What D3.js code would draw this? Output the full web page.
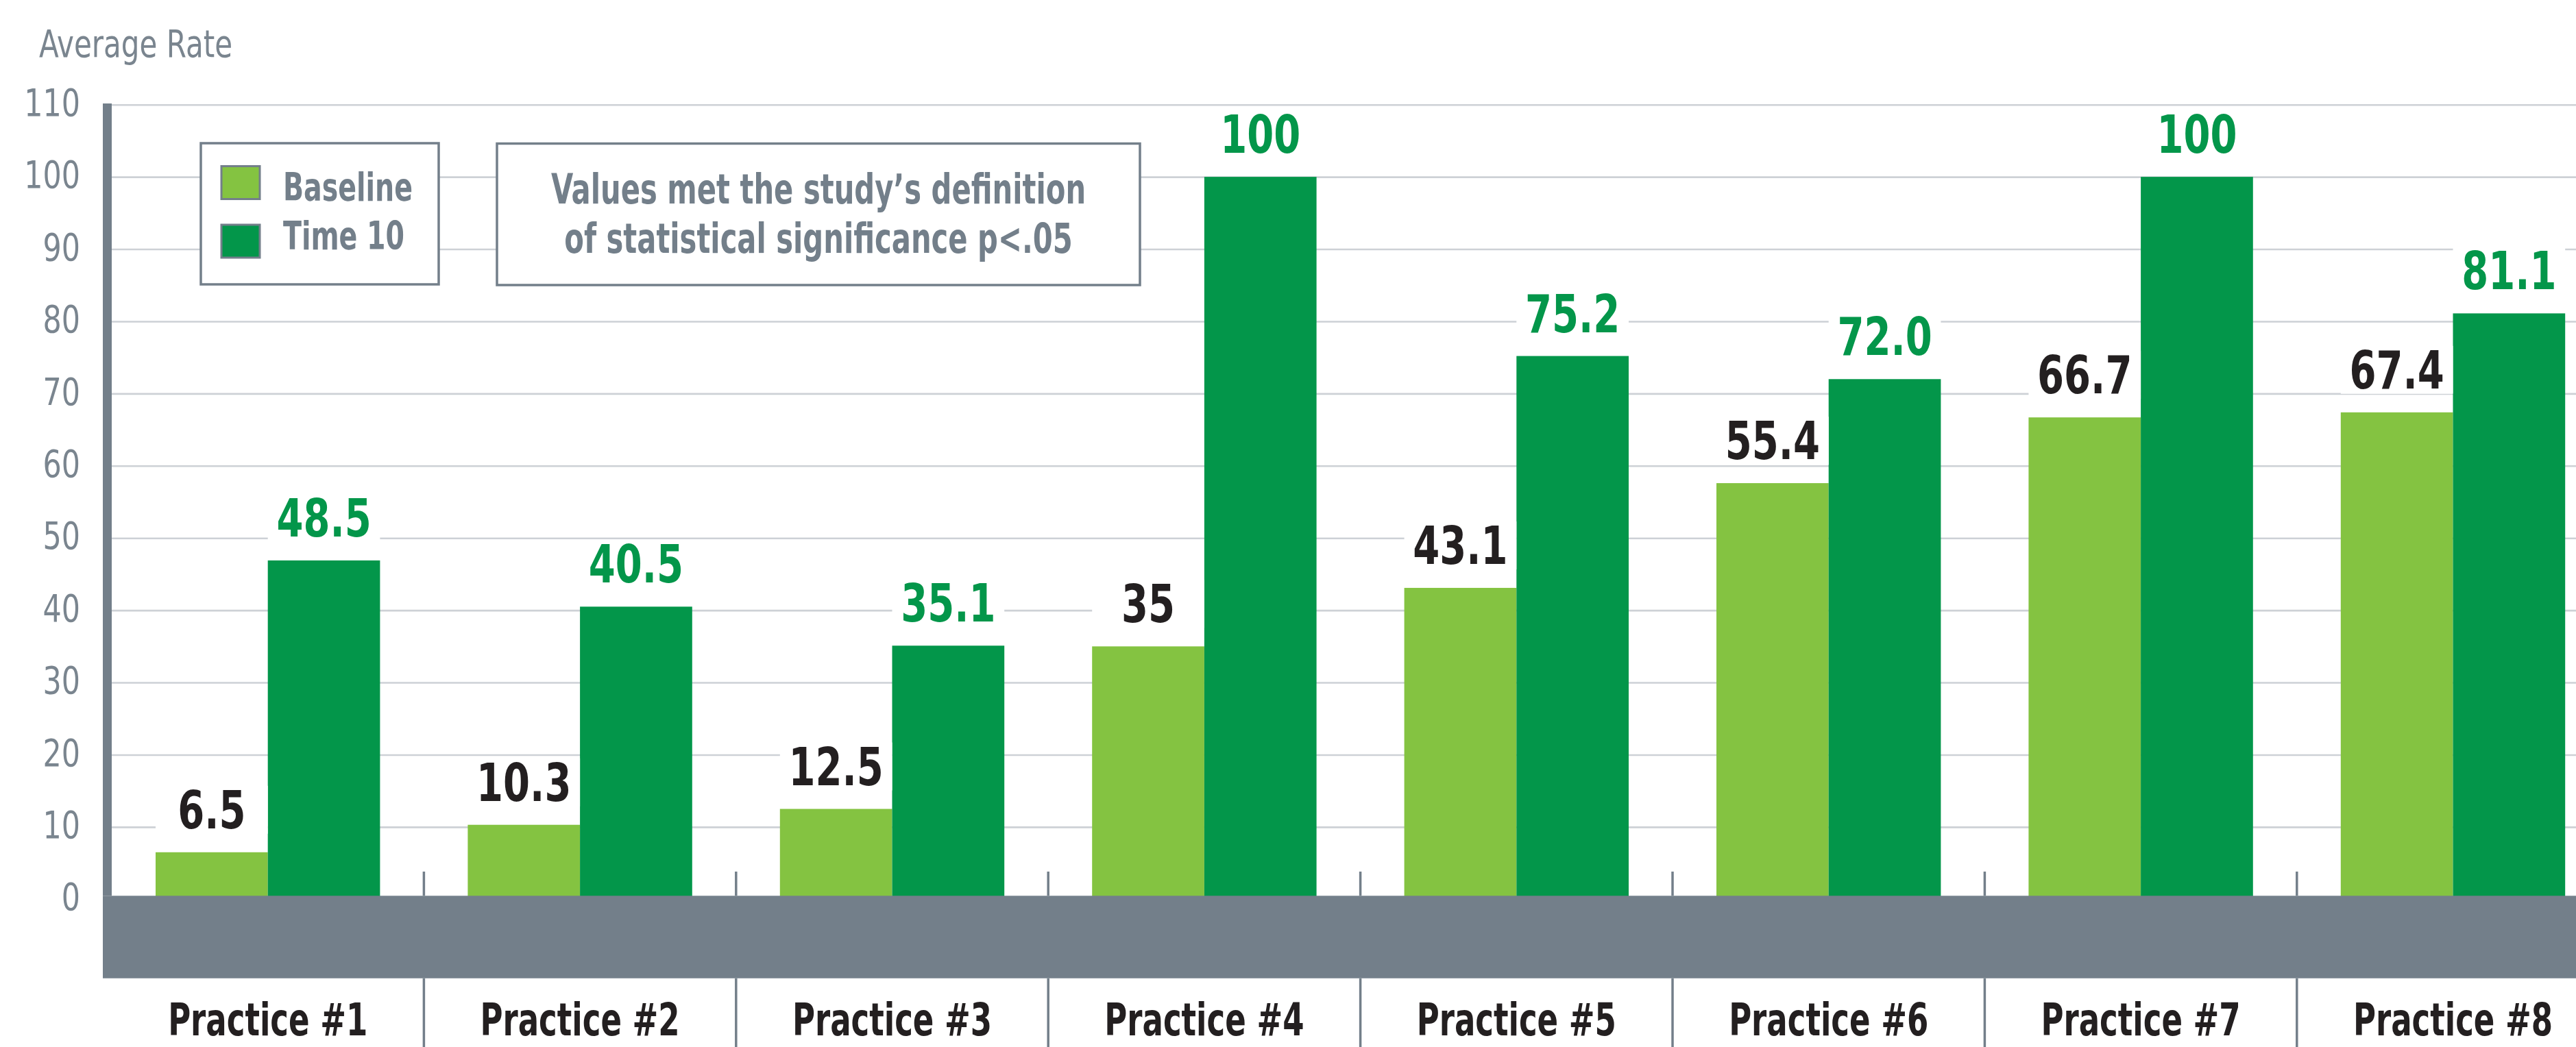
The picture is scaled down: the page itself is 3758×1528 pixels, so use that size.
<!DOCTYPE html>
<html><head><meta charset="utf-8">
<script src="https://cdn.jsdelivr.net/npm/d3@7"></script>
<style>
html,body{margin:0;padding:0;background:#fff;overflow:hidden}
svg{display:block}
text{font-family:"DejaVu Sans Condensed","DejaVu Sans",sans-serif}
</style></head><body>
<svg id="chart" width="3758" height="1528"></svg>
<script>
// ---- data ----
const categories = ["Practice #1","Practice #2","Practice #3","Practice #4","Practice #5","Practice #6","Practice #7","Practice #8"];
const seriesNames = ["Baseline","Time 10"];
// bar heights as drawn in the picture
const baselineValues = [6.5, 10.3, 12.5, 35, 43.1, 57.6, 66.7, 67.4];
const time10Values = [46.9, 40.5, 35.1, 100, 75.2, 72.0, 100, 81.1];
// value labels as printed in the picture
const baselineLabels = ["6.5","10.3","12.5","35","43.1","55.4","66.7","67.4"];
const time10Labels = ["48.5","40.5","35.1","100","75.2","72.0","100","81.1"];
const yTicks = [0,10,20,30,40,50,60,70,80,90,100,110];
const yTitle = "Average Rate";
const noteLines = ["Values met the study\u2019s definition","of statistical significance p<.05"];

// ---- styling / layout ----
const W = 3758, H = 1528;
const gray = "#737f8a", textGray = "#7a858f", gridGray = "#cdd1d6";
const colors = {"Baseline":"#84c341","Time 10":"#03964a"};
const labelColors = {"Baseline":"#231f20","Time 10":"#03964a"};
const plotLeft = 163;
const bandTop = 1307.3, bandBottom = 1427.7;

// condense text horizontally (no narrow font installed)
function cond(sel, s){
  sel.each(function(){
    const t = d3.select(this);
    const x = +t.attr("x") || 0, y = +t.attr("y") || 0;
    t.attr("x", null).attr("y", null).attr("transform", `translate(${x},${y}) scale(${s},1)`);
  });
}

const svg = d3.select("#chart");

const y = d3.scaleLinear().domain([0,110]).range([1312.3,152.7]);
const x0 = d3.scaleBand().domain(categories).range([plotLeft, plotLeft + 8*455.4]).padding(0);
const x1 = d3.scaleBand().domain(seriesNames).range([0, x0.bandwidth()]).paddingInner(0).paddingOuter(0.391);

const rows = categories.map((c,i)=>({
  cat:c,
  items:[
    {s:"Baseline", v:baselineValues[i], label:baselineLabels[i]},
    {s:"Time 10", v:time10Values[i], label:time10Labels[i]}
  ]
}));

// gridlines
const grid = svg.append("g").attr("transform",`translate(${plotLeft},0)`)
  .call(d3.axisLeft(y).tickValues(yTicks).tickSize(-(W-plotLeft)).tickFormat(""));
grid.select(".domain").remove();
grid.selectAll("line").attr("stroke",gridGray).attr("stroke-width",2.6);

// tick labels
const yAxis = svg.append("g").attr("transform",`translate(${plotLeft},0)`)
  .call(d3.axisLeft(y).tickValues(yTicks).tickSize(0).tickPadding(46));
yAxis.select(".domain").remove();
yAxis.selectAll("text").attr("fill",textGray).attr("font-size",56).attr("dy","0.28em")
  .style("font-family",'"DejaVu Sans Condensed","DejaVu Sans",sans-serif');
cond(yAxis.selectAll("text"), 0.85);

// y title
cond(svg.append("text").attr("x",57).attr("y",83).attr("fill",textGray).attr("font-size",55).text(yTitle), 0.85);

// legend box
const lg = svg.append("g");
lg.append("rect").attr("x",293).attr("y",209).attr("width",347).attr("height",206)
  .attr("fill","#fff").attr("stroke",gray).attr("stroke-width",3.5);
seriesNames.forEach((s,i)=>{
  lg.append("rect").attr("x",323).attr("y",242.5+i*85.5).attr("width",56).attr("height",48)
    .attr("fill",colors[s]).attr("stroke",gray).attr("stroke-width",3);
  cond(lg.append("text").attr("x",413).attr("y",293+i*70.5).attr("fill",gray)
    .attr("font-size",57).attr("font-weight","bold").text(s), 0.77);
});

// note box
const nb = svg.append("g");
nb.append("rect").attr("x",725).attr("y",209.5).attr("width",938).attr("height",206.5)
  .attr("fill","#fff").attr("stroke",gray).attr("stroke-width",3.5);
noteLines.forEach((t,i)=>{
  cond(nb.append("text").attr("x",1194).attr("y",297+i*71.5).attr("text-anchor","middle")
    .attr("fill",gray).attr("font-size",61).attr("font-weight","bold").text(t), 0.76);
});

// bars
const groups = svg.append("g").selectAll("g").data(rows).join("g")
  .attr("transform",d=>`translate(${x0(d.cat)},0)`);
groups.selectAll("rect.bar").data(d=>d.items).join("rect").attr("class","bar")
  .attr("x",d=>x1(d.s)).attr("width",x1.bandwidth())
  .attr("y",d=>y(d.v)).attr("height",d=>y(0)-y(d.v))
  .attr("fill",d=>colors[d.s]);

// label knockouts + labels
const gap = 35;
groups.selectAll("rect.ko").data(d=>d.items).join("rect").attr("class","ko")
  .attr("x",d=>x1(d.s)).attr("width",x1.bandwidth())
  .attr("y",d=>y(d.v)-gap-62).attr("height",70).attr("fill","#fff");
const vals = groups.selectAll("text.val").data(d=>d.items).join("text").attr("class","val")
  .attr("x",d=>x1(d.s)+x1.bandwidth()/2).attr("y",d=>y(d.v)-gap)
  .attr("text-anchor","middle").attr("font-size",76).attr("font-weight","bold")
  .attr("fill",d=>labelColors[d.s]).text(d=>d.label);
cond(vals, 0.82);

// bottom band
svg.append("rect").attr("x",150).attr("y",bandTop).attr("width",W-150).attr("height",bandBottom-bandTop).attr("fill",gray);
// y axis bar
svg.append("rect").attr("x",150).attr("y",151).attr("width",13).attr("height",bandTop-151).attr("fill",gray);

// dividers
const divs = categories.slice(1).map(c=>x0(c));
svg.append("g").selectAll("line.up").data(divs).join("line")
  .attr("x1",d=>d).attr("x2",d=>d).attr("y1",1272).attr("y2",bandTop)
  .attr("stroke",gray).attr("stroke-width",3.5);
svg.append("g").selectAll("line.dn").data(divs).join("line")
  .attr("x1",d=>d).attr("x2",d=>d).attr("y1",bandBottom).attr("y2",H)
  .attr("stroke",gray).attr("stroke-width",3.5);

// category labels
const cats = svg.append("g").selectAll("text").data(categories).join("text")
  .attr("x",d=>x0(d)+x0.bandwidth()/2).attr("y",1511).attr("text-anchor","middle")
  .attr("font-size",65).attr("font-weight","bold").attr("fill","#231f20").text(d=>d);
cond(cats, 0.77);
</script>
</body></html>
